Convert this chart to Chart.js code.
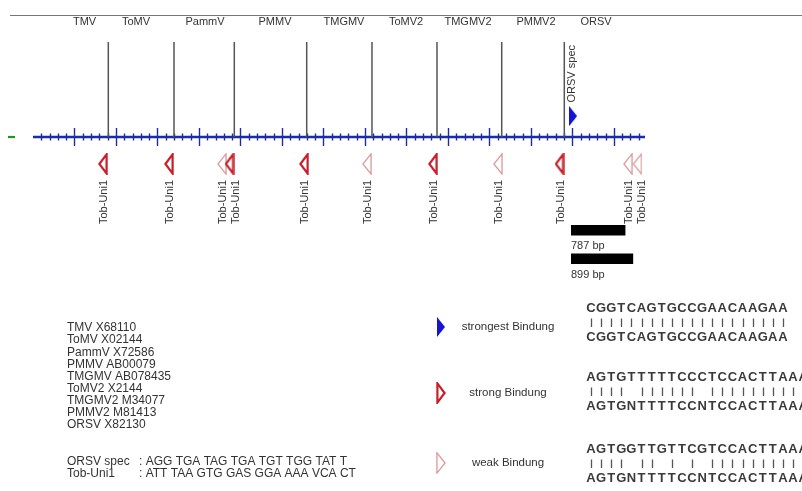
<!DOCTYPE html>
<html>
<head>
<meta charset="utf-8">
<script src="https://cdn.jsdelivr.net/npm/chart.js@4.4.1/dist/chart.umd.min.js"></script>
<style>
  html, body { margin: 0; padding: 0; background: #fff; }
  #wrap { position: relative; width: 802px; height: 491px; }
</style>
</head>
<body>
<div id="wrap"><canvas id="map"></canvas></div>
<script>
// ---- data -------------------------------------------------------------
const virusNames   = ['TMV', 'ToMV', 'PammV', 'PMMV', 'TMGMV', 'ToMV2', 'TMGMV2', 'PMMV2', 'ORSV'];
const virusLabelBp = [745, 1490, 2487, 3500, 4497, 5394, 6290, 7274, 8142];
const accessions   = ['X68110', 'X02144', 'X72586', 'AB00079', 'AB078435', 'X2144', 'M34077', 'M81413', 'X82130'];
const segmentEndBp = [1089, 2039, 2911, 3958, 4902, 5842, 6778, 7683];

const strongSitesBp    = [1012, 1967, 2842, 3919, 5784, 7614];
const weakSitesBp      = [2733, 4830, 6724, 8604, 8741];
const strongestSitesBp = [7810];

const axisMaxBp   = 8850;
const majorStepBp = 600;
const minorStepBp = 120;

const ampliconStartBp = 7780;
const ampliconsBp     = [787, 899];

const primerNames = ['ORSV spec', 'Tob-Uni1'];
const primerSeqs  = [': AGG TGA TAG TGA TGT TGG TAT T', ': ATT TAA GTG GAS GGA AAA VCA CT'];

const bindingClasses = ['strongest Bindung', 'strong Bindung', 'weak Bindung'];
const alignTop    = ['CGGTCAGTGCCGAACAAGAA', 'AGTGTTTTTCCCTCCACTTAAAT', 'AGTGGTTGTTCGTCCACTTAAA'];
const alignBottom = ['CGGTCAGTGCCGAACAAGAA', 'AGTGNTTTTCCNTCCACTTAAAT', 'AGTGNTTTTCCNTCCACTTAAAT'];

// ---- styling ----------------------------------------------------------
const FONT = '"Liberation Sans", Arial, sans-serif';
const AXIS_BLUE = '#1f2d9c';
const STRONG_RED = '#c3202b';
const WEAK_PINK = '#d99a9a';
const STRONGEST_BLUE = '#1414d2';
const TEXT = '#333';

const SITE_Y = -0.284;      // primer glyph row below the sequence axis
const SPEC_Y = 0.22;        // specific-primer glyph above the axis

function makeTriangle(w, h, stroke, fill, lw) {
  const c = document.createElement('canvas');
  c.width = w; c.height = h;
  const g = c.getContext('2d');
  const m = lw ? lw / 2 + 0.3 : 0;
  g.beginPath();
  g.moveTo(m, m);
  g.lineTo(w - m, h / 2);
  g.lineTo(m, h - m);
  g.closePath();
  if (fill) { g.fillStyle = fill; g.fill(); }
  if (stroke) { g.strokeStyle = stroke; g.lineWidth = lw; g.lineJoin = 'miter'; g.stroke(); }
  return c;
}
const strongGlyph    = makeTriangle(10, 22, STRONG_RED, null, 2.2);
const weakGlyph      = makeTriangle(10, 22, WEAK_PINK, null, 1.3);
const strongestGlyph = makeTriangle(8, 20, null, STRONGEST_BLUE, 0);

// ---- drawing helpers ---------------------------------------------------
const artwork = {
  id: 'artwork',
  beforeDraw(chart) {
    const ctx = chart.ctx;
    ctx.save();
    ctx.fillStyle = '#fff';
    ctx.fillRect(0, 0, chart.width, chart.height);
    ctx.restore();
  },
  beforeDatasetsDraw(chart) {
    const ctx = chart.ctx, xs = chart.scales.x, ys = chart.scales.y;
    const y0 = ys.getPixelForValue(0);
    ctx.save();

    // header rule and virus names
    ctx.strokeStyle = '#777';
    ctx.lineWidth = 1;
    ctx.beginPath(); ctx.moveTo(10, 15.5); ctx.lineTo(chart.width, 15.5); ctx.stroke();
    ctx.fillStyle = TEXT;
    ctx.font = '11px ' + FONT;
    ctx.textAlign = 'center';
    ctx.textBaseline = 'middle';
    virusNames.forEach((n, i) => ctx.fillText(n, xs.getPixelForValue(virusLabelBp[i]), 21.5));

    // sequence axis
    const xa = xs.getPixelForValue(0), xb = xs.getPixelForValue(axisMaxBp);
    ctx.strokeStyle = AXIS_BLUE;
    ctx.lineWidth = 2.4;
    ctx.beginPath(); ctx.moveTo(xa, y0); ctx.lineTo(xb, y0); ctx.stroke();
    ctx.lineWidth = 1.4;
    for (let v = minorStepBp; v < axisMaxBp; v += minorStepBp) {
      const px = Math.round(xs.getPixelForValue(v)) + 0.5;
      const major = v % majorStepBp === 0;
      const hl = major ? 9 : 3.5;
      ctx.beginPath(); ctx.moveTo(px, y0 - hl); ctx.lineTo(px, y0 + hl); ctx.stroke();
    }
    // start marker left of the axis
    ctx.strokeStyle = '#2e8b2e';
    ctx.lineWidth = 2.2;
    ctx.beginPath(); ctx.moveTo(xa - 25, y0); ctx.lineTo(xa - 18, y0); ctx.stroke();
    ctx.restore();
  },
  afterDatasetsDraw(chart) {
    const ctx = chart.ctx, xs = chart.scales.x, ys = chart.scales.y;
    ctx.save();
    ctx.fillStyle = TEXT;

    // primer labels under each binding site, nudged apart when crowded
    const sites = strongSitesBp.concat(weakSitesBp).sort((a, b) => a - b);
    ctx.font = '11px ' + FONT;
    ctx.textAlign = 'right';
    ctx.textBaseline = 'middle';
    let prev = -100;
    sites.forEach(bp => {
      let px = xs.getPixelForValue(bp) + 1;
      if (px < prev + 12) px = prev + 13;
      prev = px;
      ctx.save();
      ctx.translate(px, 180);
      ctx.rotate(-Math.PI / 2);
      ctx.fillText(primerNames[1], 0, 0);
      ctx.restore();
    });
    // specific primer label
    ctx.font = '11px ' + FONT;
    strongestSitesBp.forEach(bp => {
      ctx.save();
      ctx.translate(xs.getPixelForValue(bp) - 1, 45);
      ctx.rotate(-Math.PI / 2);
      ctx.fillText(primerNames[0], 0, 0);
      ctx.restore();
    });

    // amplicon size bars
    ctx.textAlign = 'left';
    ctx.font = '11px ' + FONT;
    const x0 = xs.getPixelForValue(ampliconStartBp);
    ampliconsBp.forEach((len, i) => {
      const top = 225 + i * 28.5;
      const w = xs.getPixelForValue(ampliconStartBp + len) - x0;
      ctx.fillStyle = '#000';
      ctx.fillRect(x0, top, w, 10.5);
      ctx.fillStyle = TEXT;
      ctx.fillText(len + ' bp', x0, top + 21);
    });

    // accession list
    ctx.font = '12px ' + FONT;
    const space = ctx.measureText(' ').width;
    virusNames.forEach((n, i) => {
      const y = 328 + i * 12.1;
      ctx.fillText(n, 67, y);
      const ax = Math.max(93, 67 + ctx.measureText(n).width + space);
      ctx.fillText(accessions[i], ax, y);
    });
    primerNames.forEach((n, i) => {
      const y = 462 + i * 11.6;
      ctx.fillText(n, 67, y);
      ctx.fillText(primerSeqs[i], 139, y);
    });

    // binding-strength key
    const glyphs = [strongestGlyph, strongGlyph, weakGlyph];
    const keyY = [327, 393, 463];
    ctx.font = '11.5px ' + FONT;
    ctx.textAlign = 'center';
    bindingClasses.forEach((t, i) => {
      const g = glyphs[i];
      ctx.drawImage(g, 441 - g.width / 2, keyY[i] - g.height / 2);
      ctx.fillStyle = TEXT;
      ctx.fillText(t, 508, keyY[i]);
    });

    // aligned primer / target sequences
    const rowY = [308, 377, 449];
    const pitch = 10.1, cx0 = 591;
    ctx.font = 'bold 13px ' + FONT;
    alignTop.forEach((top, r) => {
      const bot = alignBottom[r];
      ctx.fillStyle = '#3a3a3a';
      for (let k = 0; k < top.length; k++) ctx.fillText(top[k], cx0 + k * pitch, rowY[r]);
      for (let k = 0; k < bot.length; k++) ctx.fillText(bot[k], cx0 + k * pitch, rowY[r] + 29);
      ctx.strokeStyle = '#555';
      ctx.lineWidth = 1.3;
      for (let k = 0; k < Math.min(top.length, bot.length); k++) {
        if (top[k] === bot[k]) {
          const px = Math.round(cx0 + k * pitch) + 0.5;
          ctx.beginPath(); ctx.moveTo(px, rowY[r] + 10.5); ctx.lineTo(px, rowY[r] + 19); ctx.stroke();
        }
      }
    });
    ctx.restore();
  }
};

// ---- chart ------------------------------------------------------------
const separatorPoints = segmentEndBp.flatMap(bp => [{x: bp, y: 1}, {x: bp, y: 0}, {x: bp, y: null}]);

new Chart(document.getElementById('map'), {
  type: 'scatter',
  data: {
    datasets: [
      { label: 'strong', data: strongSitesBp.map(x => ({x, y: SITE_Y})),
        pointStyle: strongGlyph, rotation: 180, pointRadius: 6 },
      { label: 'weak', data: weakSitesBp.map(x => ({x, y: SITE_Y})),
        pointStyle: weakGlyph, rotation: 180, pointRadius: 6 },
      { label: 'strongest', data: strongestSitesBp.map(x => ({x, y: SPEC_Y})),
        pointStyle: strongestGlyph, pointRadius: 6 },
      { label: 'segments', data: separatorPoints, showLine: true, spanGaps: false,
        borderColor: '#555', borderWidth: 1.5, pointRadius: 0 }
    ]
  },
  options: {
    responsive: true,
    maintainAspectRatio: false,
    animation: false,
    events: [],
    layout: { padding: { left: 33, right: 157, top: 42, bottom: 259 } },
    scales: {
      x: { type: 'linear', min: 0, max: axisMaxBp, display: false },
      y: { type: 'linear', min: -1, max: 1, display: false }
    },
    plugins: { legend: { display: false }, tooltip: { enabled: false } }
  },
  plugins: [artwork]
});
</script>
</body>
</html>
